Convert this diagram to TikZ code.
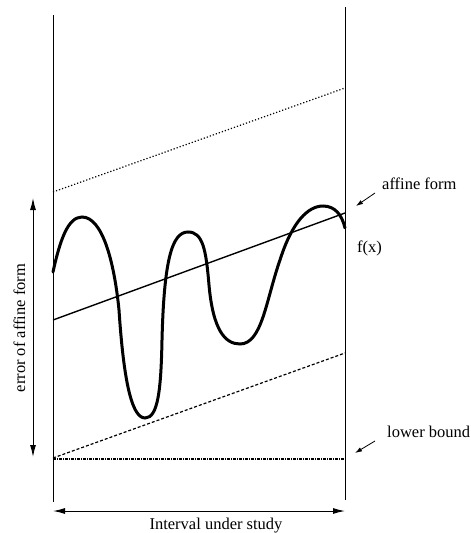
\documentclass[tikz,border=0pt]{standalone}
\usepackage{fontspec}
\setmainfont{Liberation Serif}
\usetikzlibrary{arrows.meta}

\begin{document}
\begin{tikzpicture}[
    x=1pt, y=-1pt,
    every node/.style={inner sep=0pt, font=\fontsize{16.5}{19}\selectfont},
    border/.style={line width=0.8pt},
    bound/.style={line width=1.2pt},
    affine/.style={line width=1.4pt},
    fcurve/.style={line width=3pt, line cap=round},
    span/.style={{Latex[length=12pt,width=6pt]}-{Latex[length=12pt,width=6pt]}, line width=1pt},
    pointer/.style={-{Latex[length=7pt,width=4.5pt]}, line width=0.8pt},
  ]
    \useasboundingbox (0,0) rectangle (471,533);

    % interval borders
    \coordinate (lt) at (53,15);
    \coordinate (lb) at (53,502);
    \coordinate (rt) at (345,7);
    \coordinate (rb) at (345,500);
    \draw[border] (lt) -- (lb);
    \draw[border] (rt) -- (rb);

    % bounds and affine form
    \draw[bound, dash pattern=on 1.2pt off 2pt] (53,192) -- (345,88);
    \draw[affine] (53,320) coordinate (al) -- (345,213) coordinate (ar);
    \draw[bound, dash pattern=on 3pt off 2pt] (53,458) -- (345,353);
    \draw[bound, dash pattern=on 3pt off 1pt on 1pt off 1pt] (53,459) -- (345,459);

    % f(x)
    \draw[fcurve] (53,272) .. controls (60,240) and (68,217) .. (82,217)
      .. controls (102,217) and (114,260) .. (119,310)
      .. controls (123,370) and (130,418) .. (145,418)
      .. controls (158,418) and (161,390) .. (162,340)
      .. controls (164,260) and (172,232) .. (188,232)
      .. controls (203,232) and (206,250) .. (209,285)
      .. controls (213,330) and (225,344) .. (240,344)
      .. controls (262,344) and (266,300) .. (280,260)
      .. controls (292,222) and (308,206) .. (323,206)
      .. controls (335,206) and (342,215) .. (345,228);

    % labels
    \node[anchor=base west] (affinelbl) at (382,189) {affine form};
    \node[anchor=base west] (fx) at (357,252) {f(x)};
    \node[anchor=base west] (lowerlbl) at (387,437) {lower bound};
    \node[anchor=base] (interval) at (216,529) {Interval under study};
    \node[anchor=base, rotate=90] (error) at (25,328) {error of affine form};

    % arrows
    \coordinate (etop) at (33,198);
    \coordinate (ebot) at (33,457);
    \coordinate (ileft) at (53,511);
    \coordinate (iright) at (345,511);
    \draw[span] (etop) -- (ebot);
    \draw[span] (ileft) -- (iright);

    \coordinate (afftip) at (356,206);
    \coordinate (lowtip) at (355,453);
    \draw[pointer] (375,193) -- (afftip);
    \draw[pointer] (375,441) -- (lowtip);
  \end{tikzpicture}
\end{document}
